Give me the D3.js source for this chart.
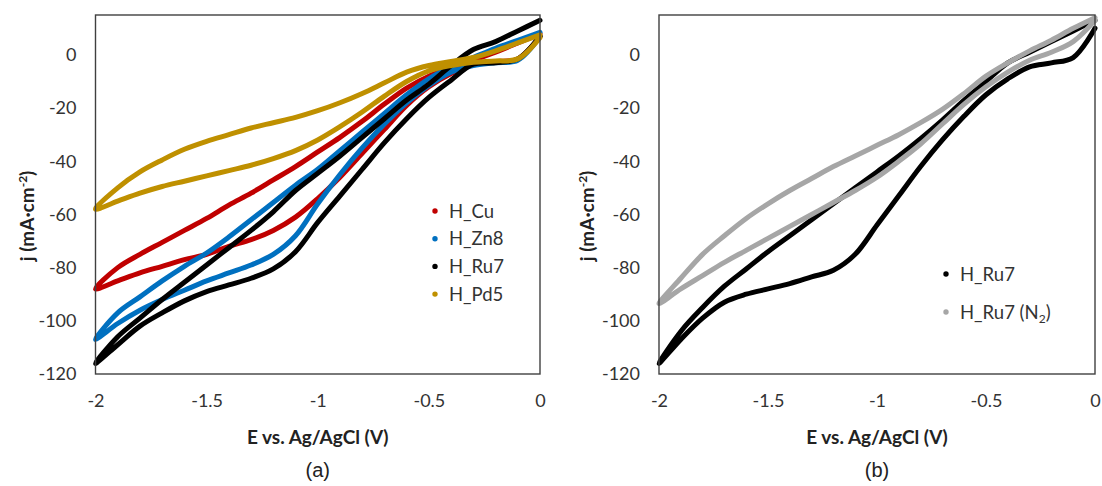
<!DOCTYPE html>
<html>
<head>
<meta charset="utf-8">
<script src="https://cdn.jsdelivr.net/npm/d3@7"></script>
<style>
  body { margin: 0; background: #fff; }
  text { font-family: Lato, "Open Sans", sans-serif; }
</style>
</head>
<body>
<div id="chart"></div>
<script>
// potential steps, one sweep from 0 V down to -2 V
var potential = [0, -0.1, -0.2, -0.3, -0.4, -0.5, -0.6, -0.7, -0.8, -0.9, -1.0,
                 -1.1, -1.2, -1.3, -1.4, -1.5, -1.6, -1.7, -1.8, -1.9, -2.0];

// panel (a): lower and upper branch of each loop, values at the potentials above
var cuLo = [7, -1.5, -2.5, -3.5, -7, -12, -19, -28, -37, -46, -54, -61, -66, -69.5, -72, -75, -77, -79.5, -82, -85, -88];
var cuUp = [8, 4.5, 1, -2, -5, -8, -12.5, -18.5, -25, -31, -36.5, -42, -47, -52, -56.5, -61.5, -66, -70.5, -75, -80, -88];
var znLo = [7, -2, -3, -4, -6.5, -11.5, -18, -26, -35, -45, -56, -68, -75, -79, -82, -85, -88.5, -92, -96, -101, -107];
var znUp = [8.5, 5.5, 2.5, -1, -4.5, -9, -15, -22, -29, -36, -43, -49, -55.5, -62, -68.5, -74.5, -79.5, -85, -91, -97, -107];
var ruLo = [7, -1.5, -3, -3.5, -9.5, -16, -24, -33, -43, -53, -63, -74, -80.5, -84, -86.5, -89, -92.5, -97, -102, -109, -116];
var ruUp = [13, 9, 5, 2, -4, -11, -17, -24, -31, -38, -44.5, -51, -59, -66, -72.5, -79, -85.5, -92, -99, -106, -116];
var pdLo = [6.5, -1.5, -2.3, -2.8, -4, -6, -10, -15.5, -21.5, -27, -32, -36, -39, -41.5, -43.5, -45.5, -47.5, -49.5, -52, -55, -58];
var pdUp = [7.5, 4.5, 1.5, -1, -2.5, -4, -6.5, -10.5, -14.5, -18, -21, -23.5, -25.5, -27.5, -30, -32.5, -35.5, -39.5, -44, -50, -58];

// panel (b)
var ruBLo = [10, -1, -3, -4.5, -9, -15, -23, -32, -42, -53, -64, -75, -81, -83.5, -86, -88, -90, -93, -99, -107, -116];
var ruBUp = [13, 9, 5, 1, -3, -10, -17, -24.5, -31.5, -38, -44, -50, -56, -62, -68, -74, -80.5, -87, -95, -104, -116];
var n2Lo = [13, 5, 1, -2, -6.5, -12, -18.5, -26, -33.5, -40, -46, -51, -55.5, -60, -64.5, -69, -73.5, -78, -83, -88, -93.5];
var n2Up = [14, 10, 5.5, 1.5, -3, -8, -14.5, -20.5, -25.5, -30, -34, -38, -42, -46.5, -51, -56, -61.5, -68, -75, -84, -93.5];

var xTicks = [-2, -1.5, -1, -0.5, 0];
var yTicks = [0, -20, -40, -60, -80, -100, -120];

var seriesA = [
  {name: "H_Cu",  color: "#c00000", lo: cuLo, up: cuUp},
  {name: "H_Zn8", color: "#0070c0", lo: znLo, up: znUp},
  {name: "H_Ru7", color: "#000000", lo: ruLo, up: ruUp},
  {name: "H_Pd5", color: "#bf9000", lo: pdLo, up: pdUp}
];
var seriesB = [
  {name: "H_Ru7",      color: "#000000", lo: ruBLo, up: ruBUp},
  {name: "H_Ru7 (N2)", color: "#a6a6a6", lo: n2Lo,  up: n2Up}
];

var W = 1102, H = 486;
var svg = d3.select("#chart").append("svg").attr("width", W).attr("height", H);

function loop(s) {
  var pts = potential.map(function(e, i) { return [e, s.lo[i]]; });
  for (var i = potential.length - 2; i >= 0; i--) pts.push([potential[i], s.up[i]]);
  return pts;
}

function panel(opt) {
  var x = d3.scaleLinear().domain([-2, 0]).range([opt.left, opt.right]);
  var y = d3.scaleLinear().domain([-120, 15]).range([374, 15]);
  var g = svg.append("g");

  var line = d3.line()
      .x(function(d) { return x(d[0]); })
      .y(function(d) { return y(d[1]); })
      .curve(d3.curveCatmullRom.alpha(0.5));

  opt.series.forEach(function(s) {
    g.append("path")
        .datum(loop(s))
        .attr("fill", "none")
        .attr("stroke", s.color)
        .attr("stroke-width", 5)
        .attr("stroke-linejoin", "round")
        .attr("stroke-linecap", "round")
        .attr("d", line);
  });

  g.append("rect")
      .attr("x", opt.left).attr("y", 15)
      .attr("width", opt.right - opt.left).attr("height", 374 - 15)
      .attr("fill", "none").attr("stroke", "#404040").attr("stroke-width", 1.4);

  var xa = g.append("g")
      .attr("transform", "translate(0,374)")
      .call(d3.axisBottom(x).tickValues(xTicks).tickSize(0).tickPadding(20)
            .tickFormat(function(d) { return String(d); }));
  xa.select(".domain").remove();
  xa.selectAll("text").attr("font-size", 18).attr("fill", "#333").style("font-family", "Lato");

  var ya = g.append("g")
      .attr("transform", "translate(" + opt.left + ",0)")
      .call(d3.axisLeft(y).tickValues(yTicks).tickSize(0).tickPadding(19)
            .tickFormat(function(d) { return String(d); }));
  ya.select(".domain").remove();
  ya.selectAll("text").attr("font-size", 18).attr("fill", "#333").style("font-family", "Lato");

  var cx = (opt.left + opt.right) / 2;
  g.append("text")
      .attr("x", cx).attr("y", 444)
      .attr("text-anchor", "middle")
      .attr("font-size", 19).attr("font-weight", "bold").attr("fill", "#222")
      .text("E vs. Ag/AgCl (V)");

  var yt = g.append("text")
      .attr("transform", "translate(" + opt.ytx + ",216) rotate(-90)")
      .attr("text-anchor", "middle")
      .attr("font-size", 19).attr("font-weight", "bold").attr("fill", "#222");
  yt.append("tspan").text("j (mA\u00b7cm");
  yt.append("tspan").attr("font-size", 12).attr("dy", -7).text("-2");
  yt.append("tspan").attr("dy", 7).text(")");

  g.append("text")
      .attr("x", cx).attr("y", 477)
      .attr("text-anchor", "middle")
      .attr("font-size", 20).attr("fill", "#222")
      .style("font-family", "'Liberation Sans', Arial, sans-serif")
      .text(opt.label);

  opt.series.forEach(function(s, i) {
    var ly = opt.legY + i * opt.legStep;
    g.append("circle").attr("cx", opt.legX).attr("cy", ly).attr("r", 2.7).attr("fill", s.color);
    var t = g.append("text")
        .attr("x", opt.legX + 14).attr("y", ly + 6.5)
        .attr("font-size", 18.5).attr("fill", "#333");
    if (s.name.indexOf("(N2)") > 0) {
      t.append("tspan").text("H_Ru7 (N");
      t.append("tspan").attr("font-size", 12).attr("dy", 4).text("2");
      t.append("tspan").attr("dy", -4).text(")");
    } else {
      t.text(s.name);
    }
  });
}

panel({left: 95.5, right: 540, series: seriesA, label: "(a)", ytx: 34,
       legX: 435, legY: 211, legStep: 27.7});
panel({left: 659, right: 1095, series: seriesB, label: "(b)", ytx: 594,
       legX: 946, legY: 274, legStep: 38});
</script>
</body>
</html>
